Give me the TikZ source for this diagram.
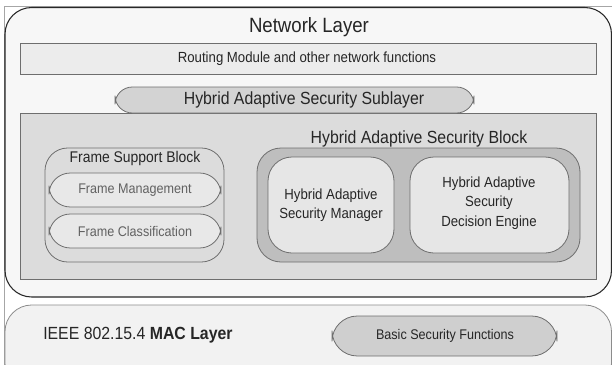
\documentclass[tikz,border=0pt]{standalone}
\usepackage{fontspec}
\setmainfont{Liberation Sans}[FakeStretch=0.9]

\definecolor{lyrfill}{RGB}{247,247,247}
\definecolor{rtfill}{RGB}{236,236,236}
\definecolor{pillfill}{RGB}{211,211,211}
\definecolor{blkfill}{RGB}{220,220,220}
\definecolor{subfill}{RGB}{232,232,232}
\definecolor{hasfill}{RGB}{190,190,190}
\definecolor{edgegray}{RGB}{110,110,110}

\begin{document}
\begin{tikzpicture}[x=0.75pt,y=0.75pt,yscale=-1,xscale=1,
	layerbox/.style={draw={rgb,255:red,40;green,40;blue,40},line width=0.8pt,fill=lyrfill,rounded corners=20},
	flatbox/.style={draw=edgegray,line width=0.6pt},
	roundbox/.style={draw=edgegray,line width=0.6pt,rounded corners=#1},
	txt/.style={inner sep=0.75pt,align=center,text=black!85}]
	\useasboundingbox (0,0) rectangle (612,365);
	
	%scan edges
	\draw [color=black!35,line width=0.4pt] (4,365) -- (4,6) -- (612,6) ;
	
	%Network layer frame
	\draw [layerbox] (5,7.5) rectangle (611.5,297) ;
	%Routing Module
	\draw [flatbox,fill=rtfill] (20,43) rectangle (596,74) ;
	%Security block background
	\draw [flatbox,fill=blkfill] (20,113) rectangle (596,279) ;
	%Sublayer pill
	\draw [roundbox=13,fill=pillfill] (115,87) rectangle (474,113) ;
	
	%Frame Support Block
	\draw [roundbox=17,fill=blkfill] (45,148) rectangle (224,262) ;
	\draw [roundbox=16,fill=subfill] (49,173) rectangle (221,207) ;
	\draw [roundbox=16,fill=subfill] (49,214) rectangle (221,248) ;
	
	%Hybrid Adaptive Security Block
	\draw [roundbox=18,fill=hasfill] (257,148) rectangle (580,262) ;
	\draw [roundbox=18,fill=blkfill!70!white] (268,157) rectangle (394,253) ;
	\draw [roundbox=18,fill=blkfill!70!white] (410,157) rectangle (569,253) ;
	
	%MAC layer frame
	\draw [layerbox,draw=black!45,line width=0.6pt,fill=lyrfill!98!black] (5,305) rectangle (611.5,390) ;
	%Basic security pill
	\draw [roundbox=19,fill=pillfill!110!white] (332,316) rectangle (557,356) ;
	
	% Text Node
	\node [txt,font=\fontsize{15.5}{17}\selectfont] (netlayer) at (309,27) {Network Layer};
	% Text Node
	\node [txt,font=\fontsize{11}{13}\selectfont] (routing) at (307,59) {Routing Module and other network functions};
	% Text Node
	\node [txt,font=\fontsize{13.2}{15}\selectfont] (sublayer) at (304,100) {Hybrid Adaptive Security Sublayer};
	% Text Node
	\node [txt,font=\fontsize{11.6}{13}\selectfont] (fsb) at (135,158) {Frame Support Block};
	% Text Node
	\node [txt,text=black!62,font=\fontsize{10.5}{12}\selectfont] (fmgmt) at (135,190) {Frame Management};
	% Text Node
	\node [txt,text=black!62,font=\fontsize{10.5}{12}\selectfont] (fclass) at (135,231) {Frame Classification};
	% Text Node
	\node [txt,font=\fontsize{13.2}{15}\selectfont] (hasb) at (419,139) {Hybrid Adaptive Security Block};
	% Text Node
	\node [txt,font=\fontsize{11}{14.5}\selectfont] (hasm) at (331,205) {Hybrid Adaptive\\Security Manager};
	% Text Node
	\node [txt,font=\fontsize{11}{14.5}\selectfont] (hasde) at (489,203) {Hybrid Adaptive\\Security\\Decision Engine};
	% Text Node
	\node [txt,anchor=west,font=\fontsize{13.2}{15}\selectfont] (mac) at (42,335) {IEEE 802.15.4 \textbf{MAC Layer}};
	% Text Node
	\node [txt,font=\fontsize{10.5}{12}\selectfont] (basic) at (445,336) {Basic Security Functions};
	
\end{tikzpicture}
\end{document}
